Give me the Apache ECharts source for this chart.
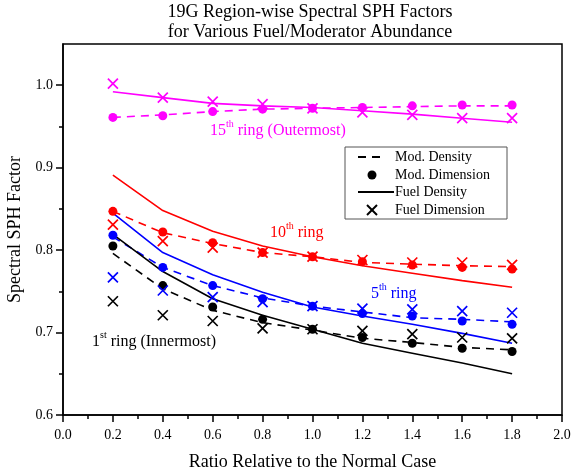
<!DOCTYPE html>
<html>
<head>
<meta charset="utf-8">
<script src="https://cdn.jsdelivr.net/npm/echarts@6/dist/echarts.min.js"></script>
<style>
  html, body { margin: 0; padding: 0; background: #fff; }
  #chart { width: 572px; height: 474px; }
</style>
</head>
<body>
<div id="chart"></div>
<script>
// Abundance ratio (relative to the normal case)
const ratios = [0.2, 0.4, 0.6, 0.8, 1.0, 1.2, 1.4, 1.6, 1.8];

// 15th ring (outermost)
const ring15ModDensity   = [0.961, 0.964, 0.968, 0.971, 0.972, 0.973, 0.974, 0.975, 0.975];
const ring15ModDimension = [0.961, 0.963, 0.968, 0.971, 0.972, 0.973, 0.975, 0.976, 0.976];
const ring15FuelDensity  = [0.992, 0.985, 0.978, 0.975, 0.973, 0.969, 0.965, 0.960, 0.955];
const ring15FuelDimension= [1.002, 0.985, 0.980, 0.977, 0.972, 0.967, 0.964, 0.960, 0.960];

// 10th ring
const ring10ModDensity   = [0.847, 0.821, 0.808, 0.797, 0.792, 0.785, 0.783, 0.781, 0.780];
const ring10ModDimension = [0.847, 0.822, 0.809, 0.797, 0.792, 0.786, 0.782, 0.779, 0.777];
const ring10FuelDensity  = [0.891, 0.848, 0.823, 0.805, 0.792, 0.781, 0.772, 0.763, 0.755];
const ring10FuelDimension= [0.831, 0.811, 0.803, 0.797, 0.792, 0.788, 0.785, 0.785, 0.782];

// 5th ring
const ring5ModDensity    = [0.816, 0.779, 0.757, 0.742, 0.732, 0.725, 0.718, 0.716, 0.713];
const ring5ModDimension  = [0.818, 0.779, 0.757, 0.741, 0.732, 0.723, 0.720, 0.714, 0.710];
const ring5FuelDensity   = [0.845, 0.797, 0.770, 0.749, 0.731, 0.720, 0.710, 0.699, 0.687];
const ring5FuelDimension = [0.767, 0.751, 0.743, 0.737, 0.732, 0.729, 0.728, 0.726, 0.724];

// 1st ring (innermost)
const ring1ModDensity    = [0.796, 0.753, 0.727, 0.712, 0.703, 0.693, 0.688, 0.682, 0.679];
const ring1ModDimension  = [0.805, 0.757, 0.731, 0.716, 0.704, 0.694, 0.687, 0.681, 0.677];
const ring1FuelDensity   = [0.819, 0.774, 0.741, 0.721, 0.704, 0.687, 0.675, 0.663, 0.650];
const ring1FuelDimension = [0.738, 0.721, 0.714, 0.705, 0.704, 0.702, 0.698, 0.694, 0.693];

const yMajorTicks = [0.6, 0.7, 0.8, 0.9, 1.0];
const yMinorTicks = [0.65, 0.75, 0.85, 0.95];

const SERIF = '"Liberation Serif", "DejaVu Serif", serif';
const CROSS = 'path://M0,0L10,10M10,0L0,10';

const rings = [
  { color: '#ff00ff', md: ring15ModDensity, mdim: ring15ModDimension, fd: ring15FuelDensity, fdim: ring15FuelDimension },
  { color: '#ff0000', md: ring10ModDensity, mdim: ring10ModDimension, fd: ring10FuelDensity, fdim: ring10FuelDimension },
  { color: '#0000ff', md: ring5ModDensity,  mdim: ring5ModDimension,  fd: ring5FuelDensity,  fdim: ring5FuelDimension },
  { color: '#000000', md: ring1ModDensity,  mdim: ring1ModDimension,  fd: ring1FuelDensity,  fdim: ring1FuelDimension }
];

const pairs = vals => ratios.map((r, i) => [r, vals[i]]);

const series = [];
rings.forEach(ring => {
  series.push({
    type: 'line', name: 'Mod. Density', data: pairs(ring.md), symbol: 'none',
    lineStyle: { color: ring.color, width: 1.6, type: [8, 6] }, z: 2, silent: true
  });
  series.push({
    type: 'line', name: 'Fuel Density', data: pairs(ring.fd), symbol: 'none',
    lineStyle: { color: ring.color, width: 1.6 }, z: 2, silent: true
  });
  series.push({
    type: 'scatter', name: 'Mod. Dimension', data: pairs(ring.mdim), symbol: 'circle', symbolSize: 9,
    itemStyle: { color: ring.color, opacity: 1 }, z: 3, silent: true
  });
  series.push({
    type: 'scatter', name: 'Fuel Dimension', data: pairs(ring.fdim), symbol: CROSS, symbolSize: 10,
    itemStyle: { color: 'transparent', borderColor: ring.color, borderWidth: 1.7, opacity: 1 }, z: 4, silent: true
  });
});

// Legend block (black keys, boxed)
const lgX = 345, lgY = 147, lgW = 162, lgH = 72;
const rowY = [157, 175, 192, 210];
const legendText = ['Mod. Density', 'Mod. Dimension', 'Fuel Density', 'Fuel Dimension'];
const legendGraphics = [
  { type: 'rect', shape: { x: lgX, y: lgY, width: lgW, height: lgH },
    style: { fill: '#fff', stroke: '#555', lineWidth: 1 }, z: 10 },
  { type: 'line', shape: { x1: 358, y1: rowY[0], x2: 385, y2: rowY[0] },
    style: { stroke: '#000', lineWidth: 2, lineDash: [8, 6] }, z: 11 },
  { type: 'circle', shape: { cx: 372, cy: rowY[1], r: 4.5 }, style: { fill: '#000' }, z: 11 },
  { type: 'line', shape: { x1: 358, y1: rowY[2], x2: 394, y2: rowY[2] },
    style: { stroke: '#000', lineWidth: 2 }, z: 11 },
  { type: 'polyline', shape: { points: [[367, rowY[3] - 5], [377, rowY[3] + 5]] }, style: { stroke: '#000', lineWidth: 2 }, z: 11 },
  { type: 'polyline', shape: { points: [[377, rowY[3] - 5], [367, rowY[3] + 5]] }, style: { stroke: '#000', lineWidth: 2 }, z: 11 }
];
legendText.forEach((t, i) => {
  legendGraphics.push({
    type: 'text', x: 395, y: rowY[i], z: 11,
    style: { text: t, font: '14px ' + SERIF, fill: '#000', verticalAlign: 'middle', align: 'left' }
  });
});

// Ring annotations with superscript ordinals
function ringLabel(x, y, num, sup, rest, color) {
  return {
    type: 'text', x: x, y: y, z: 12,
    style: {
      text: '{n|' + num + '}{s|' + sup + '}{n|' + rest + '}',
      fill: color, verticalAlign: 'middle', align: 'left',
      rich: {
        n: { fontFamily: SERIF, fontSize: 16, fill: color, lineHeight: 19, verticalAlign: 'bottom' },
        s: { fontFamily: SERIF, fontSize: 10, fill: color, lineHeight: 19, verticalAlign: 'top' }
      }
    }
  };
}

const option = {
  animation: false,
  backgroundColor: '#fff',
  title: {
    text: '19G Region-wise Spectral SPH Factors\nfor Various Fuel/Moderator Abundance',
    left: 310, top: 2, padding: 0, textAlign: 'center',
    textStyle: { fontFamily: SERIF, fontSize: 18, fontWeight: 'normal', color: '#000', lineHeight: 20 }
  },
  grid: { left: 63, right: 10, top: 44, bottom: 59, outerBoundsMode: 'none', containLabel: false,
    show: true, borderColor: '#000', borderWidth: 1.5, backgroundColor: 'transparent' },
  xAxis: {
    type: 'value', min: 0, max: 2.0, interval: 0.2,
    name: 'Ratio Relative to the Normal Case', nameLocation: 'middle', nameGap: 38,
    nameTextStyle: { fontFamily: SERIF, fontSize: 18, color: '#000' },
    axisLine: { show: true, lineStyle: { color: '#000', width: 1.5 } },
    axisTick: { show: true, length: 7, inside: false, lineStyle: { color: '#000', width: 1.5 } },
    minorTick: { show: true, splitNumber: 2, length: 4, lineStyle: { color: '#000', width: 1.5 } },
    axisLabel: { fontFamily: SERIF, fontSize: 14, color: '#000', margin: 13,
      formatter: v => v.toFixed(1) },
    splitLine: { show: false }
  },
  yAxis: [{
    type: 'value', min: 0.6, max: 1.05,
    name: 'Spectral SPH Factor', nameLocation: 'middle', nameGap: 36,
    nameTextStyle: { fontFamily: SERIF, fontSize: 18, color: '#000' },
    axisLine: { show: true, lineStyle: { color: '#000', width: 1.5 } },
    axisTick: { show: true, length: 7, customValues: yMajorTicks, lineStyle: { color: '#000', width: 1.5 } },
    axisLabel: { fontFamily: SERIF, fontSize: 14, color: '#000', margin: 10, customValues: yMajorTicks,
      formatter: v => v.toFixed(1) },
    splitLine: { show: false }
  }, {
    type: 'value', min: 0.6, max: 1.05, position: 'left',
    axisLine: { show: false },
    axisTick: { show: true, length: 4, customValues: yMinorTicks, lineStyle: { color: '#000', width: 1.5 } },
    axisLabel: { show: false },
    splitLine: { show: false }
  }],
  series: series,
  graphic: legendGraphics.concat([
    ringLabel(210, 129, '15', 'th', ' ring (Outermost)', '#ff00ff'),
    ringLabel(270, 231, '10', 'th', ' ring', '#ff0000'),
    ringLabel(371, 292, '5', 'th', ' ring', '#0000ff'),
    ringLabel(92, 340, '1', 'st', ' ring (Innermost)', '#000000')
  ])
};

const chart = echarts.init(document.getElementById('chart'), null, { renderer: 'canvas' });
chart.setOption(option);
</script>
</body>
</html>
